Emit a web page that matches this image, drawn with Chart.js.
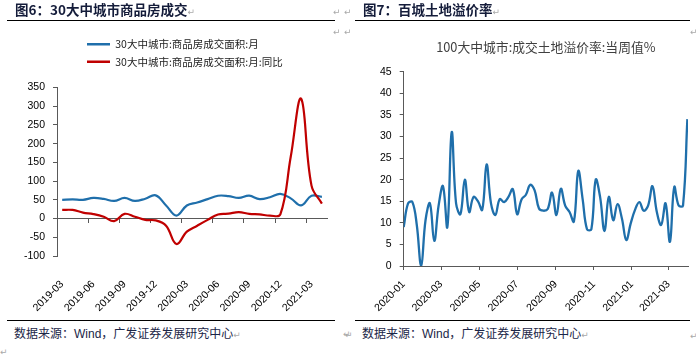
<!DOCTYPE html>
<html><head><meta charset="utf-8">
<script src="https://cdn.jsdelivr.net/npm/chart.js@4.4.1/dist/chart.umd.min.js"></script>
<style>
html,body{margin:0;padding:0;background:#fff;width:696px;height:357px;overflow:hidden;position:relative;font-family:"Liberation Sans","Noto Sans CJK SC",sans-serif;}
canvas{position:absolute;top:0;}
#c1{left:0;}
#c2{left:345px;}
.t{position:absolute;white-space:nowrap;line-height:16px;}
.title{font-family:"Noto Sans CJK SC",sans-serif;font-weight:700;font-size:13.5px;color:#141c3a;}
.src{font-size:12px;color:#1b2647;font-family:"Liberation Sans","Noto Sans CJK SC",sans-serif;}
.rule{position:absolute;height:0;border-top:1.6px solid #000;}
.pm{position:absolute;color:#a9a9a9;font-size:9px;line-height:10px;font-family:"DejaVu Sans",sans-serif;}
.pmi{color:#a9a9a9;font-size:9px;font-family:"DejaVu Sans",sans-serif;font-weight:400;}
</style></head>
<body>
<canvas id="c1" width="345" height="318"></canvas>
<canvas id="c2" width="351" height="318"></canvas>

<div class="t title" style="left:15px;top:1px;">图6：30大中城市商品房成交<span class="pmi">↵</span></div>
<div class="t title" style="left:363px;top:1px;">图7：百城土地溢价率<span class="pmi">↵</span></div>
<div class="rule" style="left:7px;top:20px;width:328px;"></div>
<div class="rule" style="left:355px;top:20px;width:335px;"></div>
<div class="pm" style="left:333px;top:7px;">↵</div>
<div class="pm" style="left:333px;top:27px;">↵</div>
<div class="pm" style="left:344px;top:7px;">↵</div>
<div class="pm" style="left:344px;top:27px;">↵</div>
<div class="pm" style="left:690px;top:27px;">↵</div>

<div class="rule" style="left:7px;top:320px;width:328px;"></div>
<div class="rule" style="left:355px;top:320px;width:335px;"></div>
<div class="t src" style="left:14px;top:326px;">数据来源：Wind，广发证券发展研究中心<span class="pmi">↵</span></div>
<div class="t src" style="left:362px;top:326px;">数据来源：Wind，广发证券发展研究中心<span class="pmi">↵</span></div>
<div class="pm" style="left:343px;top:329px;">↵</div>
<div class="pm" style="left:345px;top:330px;">↵</div>
<div class="pm" style="left:690px;top:331px;">↵</div>
<div class="pm" style="left:0px;top:347px;">↵</div>

<script>
// ---------- Figure 6 data (monthly) ----------
const months = ['2019-03','2019-04','2019-05','2019-06','2019-07','2019-08','2019-09','2019-10','2019-11','2019-12',
  '2020-01','2020-02','2020-03','2020-04','2020-05','2020-06','2020-07','2020-08','2020-09','2020-10','2020-11','2020-12',
  '2021-01','2021-02','2021-03','2021-04'];
const salesArea = [50,51,50,55,52.5,47,55,47,53,62,35,8,35,43,52,61,60,55,61,52,57,66,54,35,61,58];
const salesYoY  = [23,23,16,12,5,-7,12.5,5,-3.5,-5,-19,-68,-35,-19,-3.5,11,13,17,12.5,11,8,11,165,320,88,40];
const seriesNames6 = ['30大中城市:商品房成交面积:月','30大中城市:商品房成交面积:月:同比'];
const yMin6 = -100, yMax6 = 350, yStep6 = 50;

// ---------- Figure 7 data (weekly) ----------
const rateStart = '2020-01-01';
const premiumRate = [9,14.5,14.8,9.5,0,10.6,14.5,5.8,14,18.5,9,31,14.5,12,20,12.5,16,15,13,23.5,14.5,11.8,15.5,14.8,16,17.8,
  12,15.4,16.5,18.8,17.5,13.3,12.8,13.2,17,11.8,17.9,14,12.5,10.3,22,15.5,8.5,8.5,20,16,8.1,16,10.6,14.3,11,6,9.8,13,14.8,
  12.8,14,18.5,12.5,9.5,14.5,5.6,18.3,14,14,34];
const rateTickLabels = ['2020-01','2020-03','2020-05','2020-07','2020-09','2020-11','2021-01','2021-03'];
const rateAxisEnd = '2021-04';
const seriesName7 = '100大中城市:成交土地溢价率:当周值%';
const yMin7 = 0, yMax7 = 45, yStep7 = 5;

const BLUE = '#1F6FAB', RED = '#C00000', AXIS = '#595959';
const tickFont = {family: 'Liberation Sans', size: 10.5};

function dayOf(s) {
  const p = s.split('-').map(Number);
  const b = rateStart.split('-').map(Number);
  return (Date.UTC(p[0], p[1] - 1, p[2] || 1) - Date.UTC(b[0], b[1] - 1, b[2] || 1)) / 864e5;
}

// ---------- Chart 6 ----------
const legendTweak = {
  id: 'legendTweak',
  beforeInit(chart) {
    const lg = chart.legend;
    if (!lg) return;
    const fit = lg.fit;
    lg.fit = function () { fit.call(this); this.height += 10.5; };
  },
  afterUpdate(chart) {
    const lg = chart.legend;
    if (lg) { lg.left = 80; }
  }
};

new Chart(document.getElementById('c1'), {
  type: 'line',
  data: {
    labels: months,
    datasets: [
      {label: seriesNames6[0], data: salesArea, borderColor: BLUE, backgroundColor: BLUE, borderWidth: 2.2,
       pointRadius: 0, tension: 0.4, fill: false, order: 1},
      {label: seriesNames6[1], data: salesYoY, borderColor: RED, backgroundColor: RED, borderWidth: 2.2,
       pointRadius: 0, tension: 0.4, fill: false, order: 0}
    ]
  },
  options: {
    responsive: false, animation: false, devicePixelRatio: 1,
    layout: {padding: {top: 32, left: 0, right: 10, bottom: 4}},
    plugins: {
      tooltip: {enabled: false},
      legend: {
        position: 'top', align: 'start',
        labels: {
          boxWidth: 23, boxHeight: 2.5, padding: 7, color: '#222',
          font: {family: 'Noto Sans CJK SC', size: 10.5},
          sort: (a, b) => a.datasetIndex - b.datasetIndex,
          generateLabels(chart) {
            const items = Chart.defaults.plugins.legend.labels.generateLabels(chart);
            items.forEach(it => { it.lineWidth = 0; it.fillStyle = it.strokeStyle; });
            return items;
          }
        }
      }
    },
    scales: {
      x: {
        type: 'category', offset: true,
        grid: {display: false}, border: {display: false},
        ticks: {
          autoSkip: false, maxRotation: 45, minRotation: 45, padding: 14, color: '#000', font: tickFont,
          callback(v, i) { return i % 3 === 0 ? this.getLabelForValue(v) : ''; }
        },
        afterFit(s) { s.height = 58; }
      },
      x2: {
        type: 'category', position: {y: 0}, offset: true,
        grid: {display: true, offset: true, drawOnChartArea: false, drawTicks: true, tickLength: 4,
               color: 'rgba(0,0,0,0)',
               tickColor: ctx => (ctx.index % 3 === 0 ? AXIS : 'rgba(0,0,0,0)')},
        border: {display: true, color: AXIS, width: 1},
        ticks: {display: false}
      },
      y: {
        min: yMin6, max: yMax6,
        ticks: {stepSize: yStep6, color: '#000', font: tickFont, padding: 8},
        grid: {display: true, drawOnChartArea: false, drawTicks: true, tickLength: 4, color: AXIS},
        border: {display: true, color: AXIS, width: 1},
        afterFit(s) { s.width = 57; }
      }
    }
  },
  plugins: [legendTweak]
});

// ---------- Chart 7 ----------
const titleTweak = {
  id: 'titleTweak',
  afterUpdate(chart) {
    const t = chart.titleBlock;
    if (t) { t.left = chart.chartArea.left; t.right = chart.chartArea.right; }
  }
};
const rateTickDays = rateTickLabels.map(dayOf);

new Chart(document.getElementById('c2'), {
  type: 'line',
  data: {
    datasets: [{
      label: seriesName7,
      data: premiumRate.map((v, k) => ({x: 7 * k, y: v})),
      borderColor: BLUE, backgroundColor: BLUE, borderWidth: 2.3, pointRadius: 0, tension: 0.4, fill: false
    }]
  },
  options: {
    responsive: false, animation: false, devicePixelRatio: 1,
    layout: {padding: {top: 29, left: 0, right: 8, bottom: 4}},
    plugins: {
      tooltip: {enabled: false},
      legend: {display: false},
      title: {display: true, text: seriesName7, color: '#404040',
              font: {family: 'Noto Sans CJK SC', size: 12.8, weight: 'normal', lineHeight: 1.2},
              padding: {top: 10, bottom: 17.3}}
    },
    scales: {
      x: {
        type: 'linear', min: 0, max: dayOf(rateAxisEnd),
        afterBuildTicks(s) { s.ticks = rateTickDays.map(v => ({value: v})); },
        ticks: {autoSkip: false, maxRotation: 45, minRotation: 45, padding: 8, color: '#000', font: tickFont,
                callback(v, i) { return rateTickLabels[i]; }},
        grid: {display: true, drawOnChartArea: false, drawTicks: true, tickLength: 4, color: AXIS},
        border: {display: true, color: AXIS, width: 1},
        afterFit(s) { s.height = 48; }
      },
      y: {
        min: yMin7, max: yMax7,
        ticks: {stepSize: yStep7, color: '#000', font: tickFont, padding: 8},
        grid: {display: true, drawOnChartArea: false, drawTicks: true, tickLength: 4, color: AXIS},
        border: {display: true, color: AXIS, width: 1},
        afterFit(s) { s.width = 58.7; }
      }
    }
  },
  plugins: [titleTweak]
});
</script>
</body></html>
